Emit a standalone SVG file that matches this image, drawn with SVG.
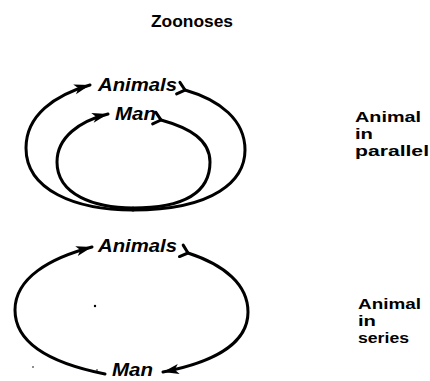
<svg xmlns="http://www.w3.org/2000/svg" width="430" height="381" viewBox="0 0 430 381">
  <style>
    .lbl { font-family: "Liberation Sans", Arial, sans-serif; font-weight: bold; fill: #000; }
    .node { font-family: "Liberation Sans", Arial, sans-serif; font-weight: bold; font-style: italic; font-size: 18px; fill: #000; }
    .side { font-size: 15px; }
    .arc { fill: none; stroke: #000; stroke-width: 3; stroke-linecap: round; }
  </style>
  <defs>
    <marker id="head" markerUnits="userSpaceOnUse" viewBox="-1 -6 19 12" refX="16" refY="0" markerWidth="19" markerHeight="12" orient="auto">
      <path d="M0,-5 L16,0 L0,5 L4,0 Z" fill="#000"/>
    </marker>
    <marker id="tail" markerUnits="userSpaceOnUse" viewBox="-9 -8 11 16" refX="0" refY="0" markerWidth="11" markerHeight="16" orient="auto">
      <path d="M-7,-6 L0,0 L-7,6" fill="none" stroke="#000" stroke-width="3" stroke-linecap="round"/>
    </marker>
  </defs>
  <rect width="430" height="381" fill="#fff"/>

  <g id="title">
    <text class="lbl" x="151" y="27" font-size="16" textLength="82" lengthAdjust="spacingAndGlyphs">Zoonoses</text>
  </g>

  <g id="connectors">
    <!-- parallel: outer loop -->
    <path class="arc" d="M133,210 C75,210 26,190 26,148 C26,115 55,95 90,85" marker-end="url(#head)"/>
    <path class="arc" d="M185,90 C220,100 245,120 245,150 C245,180 215,210 133,210" marker-start="url(#tail)"/>
    <!-- parallel: inner loop -->
    <path class="arc" d="M133,208 C95,208 57,195 57,162 C57,137 80,121 108,114" marker-end="url(#head)"/>
    <path class="arc" d="M161,120 C190,128 210,140 210,162 C210,185 195,208 133,208" marker-start="url(#tail)"/>
    <!-- series loop -->
    <path class="arc" d="M105,374 C55,364 15,345 15,310 C15,278 50,258 92,247" marker-end="url(#head)"/>
    <path class="arc" d="M188,253 C225,265 248,285 248,312 C248,345 210,363 163,372" marker-end="url(#head)" marker-start="url(#tail)"/>
  </g>

  <g id="animals-parallel">
    <text class="node" x="98" y="91" textLength="79" lengthAdjust="spacingAndGlyphs">Animals</text>
  </g>
  <g id="man-parallel">
    <text class="node" x="115" y="120" textLength="41" lengthAdjust="spacingAndGlyphs">Man</text>
  </g>
  <g id="label-parallel">
    <text class="lbl side" x="355" y="122" textLength="66" lengthAdjust="spacingAndGlyphs">Animal</text>
    <text class="lbl side" x="355" y="139" textLength="18" lengthAdjust="spacingAndGlyphs">in</text>
    <text class="lbl side" x="355" y="156" textLength="74" lengthAdjust="spacingAndGlyphs">parallel</text>
  </g>

  <g id="animals-series">
    <text class="node" x="98" y="252" textLength="79" lengthAdjust="spacingAndGlyphs">Animals</text>
  </g>
  <g id="man-series">
    <text class="node" x="112" y="376" textLength="41" lengthAdjust="spacingAndGlyphs">Man</text>
  </g>
  <g id="label-series">
    <text class="lbl side" x="358" y="309" textLength="63" lengthAdjust="spacingAndGlyphs">Animal</text>
    <text class="lbl side" x="358" y="326" textLength="18" lengthAdjust="spacingAndGlyphs">in</text>
    <text class="lbl side" x="358" y="343" textLength="51" lengthAdjust="spacingAndGlyphs">series</text>
  </g>

  <g id="specks" fill="#000">
    <circle cx="95" cy="306" r="1.2"/>
    <circle cx="33" cy="367" r="0.8"/>
    <circle cx="97" cy="370" r="0.8"/>
  </g>
</svg>
